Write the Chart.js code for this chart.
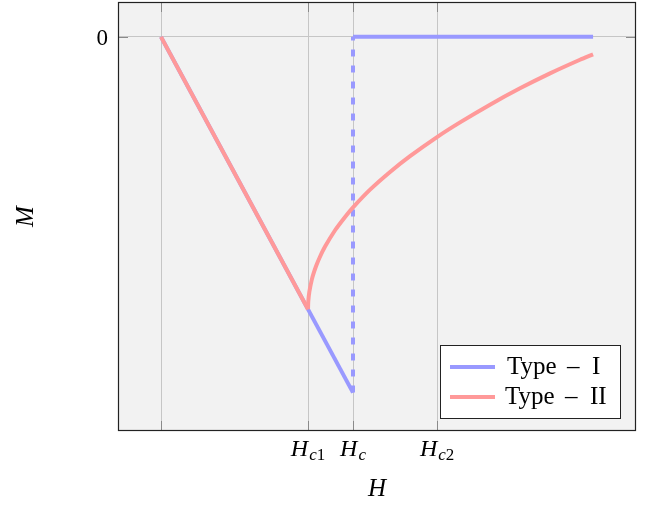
<!DOCTYPE html>
<html>
<head>
<meta charset="utf-8">
<script src="https://cdn.jsdelivr.net/npm/chart.js@4.4.0/dist/chart.umd.min.js"></script>
<style>
  html, body { margin: 0; padding: 0; background: #ffffff; }
  canvas { display: block; }
</style>
</head>
<body>
<canvas id="chart" width="647" height="506"></canvas>
<script>
// field values in units of Hc1, magnetisation in the same units
var x_ticks = [0, 1.0, 1.306, 1.878];
var x_tick_labels = [null, ['H', 'c', '1'], ['H', 'c', ''], ['H', 'c', '2']];
var y_ticks = [0];
var y_tick_labels = ['0'];

var type1_h = [0, 1.306, 1.306, 2.939];
var type1_m = [0, -1.306, 0, 0];

var type2_h = [0, 1.000, 1.002, 1.009, 1.025, 1.040, 1.059, 1.080, 1.116, 1.184, 1.252, 1.308, 1.422, 1.558, 1.694, 1.880, 2.034, 2.238, 2.442, 2.646, 2.850, 2.939];
var type2_m = [0, -1.000, -0.970, -0.936, -0.893, -0.865, -0.836, -0.809, -0.770, -0.710, -0.661, -0.625, -0.561, -0.496, -0.438, -0.367, -0.314, -0.249, -0.189, -0.134, -0.084, -0.064];

var series_names = ['Type \u2013 I', 'Type \u2013 II'];
var colors = ['#9999ff', '#ff9999'];

function to_points(xs, ys) {
    return xs.map(function (x, i) { return {x: x, y: ys[i]}; });
}

var serif = '"Liberation Serif", "DejaVu Serif", serif';

var decor_plugin = {
    id: 'decor',
    beforeDraw: function (chart) {
        var ctx = chart.ctx, a = chart.chartArea;
        ctx.save();
        ctx.fillStyle = '#ffffff';
        ctx.fillRect(0, 0, chart.width, chart.height);
        ctx.fillStyle = '#f2f2f2';
        ctx.fillRect(a.left, a.top, a.right - a.left, a.bottom - a.top);
        ctx.restore();
    },
    afterDraw: function (chart) {
        var ctx = chart.ctx, a = chart.chartArea;
        var xs = chart.scales.x, ys = chart.scales.y;
        ctx.save();

        // small tick marks on the frame
        ctx.strokeStyle = '#8a8a8a';
        ctx.lineWidth = 1;
        ctx.beginPath();
        x_ticks.forEach(function (v) {
            var px = Math.round(xs.getPixelForValue(v)) + 0.5;
            ctx.moveTo(px, a.bottom); ctx.lineTo(px, a.bottom - 10);
            ctx.moveTo(px, a.top); ctx.lineTo(px, a.top + 10);
        });
        y_ticks.forEach(function (v) {
            var py = Math.round(ys.getPixelForValue(v)) + 0.5;
            ctx.moveTo(a.left, py); ctx.lineTo(a.left + 10, py);
            ctx.moveTo(a.right, py); ctx.lineTo(a.right - 10, py);
        });
        ctx.stroke();

        // frame
        ctx.strokeStyle = '#222222';
        ctx.lineWidth = 1.2;
        ctx.strokeRect(a.left + 0.5, a.top + 0.5, a.right - a.left - 1, a.bottom - a.top - 1);

        // x tick labels: H with subscript
        ctx.fillStyle = '#000000';
        ctx.textBaseline = 'alphabetic';
        x_ticks.forEach(function (v, i) {
            var lab = x_tick_labels[i];
            if (!lab) return;
            var px = xs.getPixelForValue(v);
            ctx.font = 'italic 24px ' + serif;
            var w1 = ctx.measureText(lab[0]).width;
            ctx.font = 'italic 17px ' + serif;
            var w2 = ctx.measureText(lab[1]).width;
            ctx.font = '17px ' + serif;
            var w3 = ctx.measureText(lab[2]).width;
            var total = w1 + 1 + w2 + w3;
            var sx = px - total / 2;
            ctx.textAlign = 'left';
            ctx.font = 'italic 24px ' + serif;
            ctx.fillText(lab[0], sx, 456);
            ctx.font = 'italic 17px ' + serif;
            ctx.fillText(lab[1], sx + w1 + 1, 460);
            ctx.font = '17px ' + serif;
            ctx.fillText(lab[2], sx + w1 + 1 + w2, 460);
        });

        // y tick labels
        ctx.font = '23px ' + serif;
        ctx.textAlign = 'right';
        y_ticks.forEach(function (v, i) {
            ctx.fillText(y_tick_labels[i], 108, ys.getPixelForValue(v) + 8);
        });

        // axis titles
        ctx.font = 'italic 25px ' + serif;
        ctx.textAlign = 'center';
        ctx.fillText('H', (a.left + a.right) / 2, 496);
        ctx.save();
        ctx.translate(33, (a.top + a.bottom) / 2);
        ctx.rotate(-Math.PI / 2);
        ctx.fillText('M', 0, 0);
        ctx.restore();

        // legend box
        ctx.fillStyle = '#ffffff';
        ctx.fillRect(440, 345, 180, 73);
        ctx.strokeStyle = '#222222';
        ctx.lineWidth = 1;
        ctx.strokeRect(440.5, 345.5, 180, 73);
        var rows = [367, 397];
        series_names.forEach(function (name, i) {
            ctx.strokeStyle = colors[i];
            ctx.lineWidth = 4;
            ctx.beginPath();
            ctx.moveTo(450, rows[i]);
            ctx.lineTo(495, rows[i]);
            ctx.stroke();
            ctx.fillStyle = '#000000';
            ctx.textAlign = 'left';
            ctx.font = '25px ' + serif;
            var parts = name.split(' \u2013 ');
            var bx = i === 0 ? 507 : 505;
            ctx.fillText(parts[0], bx, rows[i] + 7);
            ctx.fillText('\u2013', bx + 60, rows[i] + 7);
            ctx.fillText(parts[1], bx + 85, rows[i] + 7);
        });
        ctx.restore();
    }
};

var grid_opts = {
    color: '#c6c6c6',
    lineWidth: 1,
    drawTicks: false
};

new Chart(document.getElementById('chart'), {
    type: 'line',
    data: {
        datasets: [
            {
                label: series_names[0],
                data: to_points(type1_h, type1_m),
                borderColor: colors[0],
                borderWidth: 4,
                pointRadius: 0,
                tension: 0,
                order: 1,
                segment: {
                    borderDash: function (ctx) { return ctx.p0DataIndex === 1 ? [7, 9] : undefined; }
                }
            },
            {
                // straight Meissner part of type II
                label: series_names[1],
                data: to_points(type2_h.slice(0, 2), type2_m.slice(0, 2)),
                borderColor: colors[1],
                borderWidth: 4,
                pointRadius: 0,
                tension: 0,
                order: 0
            },
            {
                // mixed state part of type II
                label: series_names[1],
                data: to_points(type2_h.slice(1), type2_m.slice(1)),
                borderColor: colors[1],
                borderWidth: 4,
                pointRadius: 0,
                tension: 0.2,
                order: 0
            }
        ]
    },
    options: {
        responsive: false,
        animation: false,
        devicePixelRatio: 1,
        layout: {padding: {left: 118, right: 11, top: 2, bottom: 75}},
        scales: {
            x: {
                type: 'linear',
                min: -0.2925,
                max: 3.231,
                ticks: {display: false},
                grid: grid_opts,
                border: {display: false},
                afterBuildTicks: function (scale) {
                    scale.ticks = x_ticks.map(function (v) { return {value: v}; });
                }
            },
            y: {
                type: 'linear',
                min: -1.447,
                max: 0.128,
                ticks: {display: false},
                grid: grid_opts,
                border: {display: false},
                afterBuildTicks: function (scale) {
                    scale.ticks = y_ticks.map(function (v) { return {value: v}; });
                }
            }
        },
        plugins: {
            legend: {display: false},
            tooltip: {enabled: false}
        }
    },
    plugins: [decor_plugin]
});
</script>
</body>
</html>
